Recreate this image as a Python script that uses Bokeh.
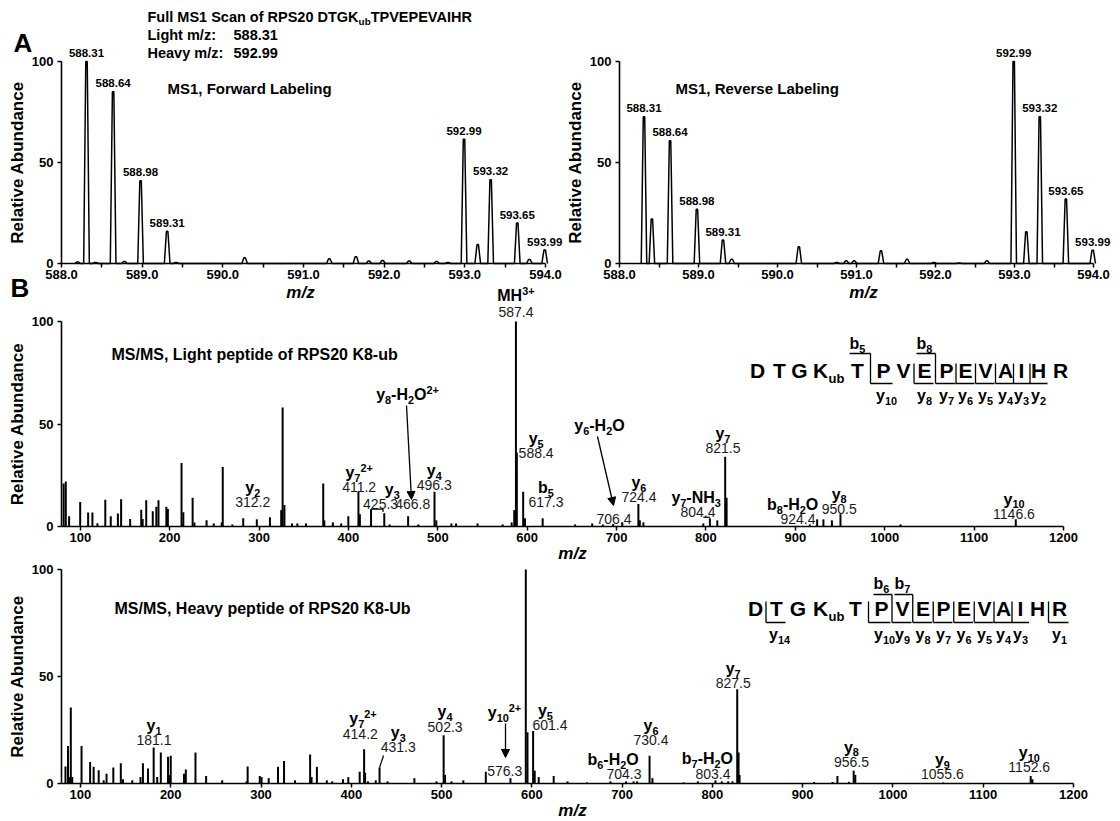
from bokeh.plotting import figure
from bokeh.models import (Range1d, FixedTicker, PrintfTickFormatter, Label, Arrow,
                          NormalHead, ColumnDataSource)
from bokeh.layouts import column, row
from bokeh.embed import file_html
from bokeh.resources import INLINE

FONT = "Liberation Sans"
BASE_SHIFT = 0.38   # Label baseline correction (fraction of font size)

# ---------------- data ----------------
# MS1, forward labeling (profile peaks: m/z, relative abundance)
fwd_mz = [588.20, 588.31, 588.42, 588.64, 588.78, 588.98, 589.31, 589.42, 590.27, 591.32, 591.65,
          591.81, 591.98, 592.31, 592.65, 592.79, 592.99, 593.16, 593.32, 593.65, 593.80, 593.99]
fwd_ab = [0.8, 100, 0.5, 85, 1.0, 41, 16, 0.5, 2.8, 2.3, 3.4,
          1.2, 1.5, 1.2, 1.0, 0.5, 61.5, 9.4, 41.5, 20, 2.0, 6.7]
# MS1, reverse labeling
rev_mz = [588.31, 588.41, 588.64, 588.98, 589.31, 589.42, 590.27, 590.75, 590.87, 590.97,
          591.31, 591.64, 591.98, 592.30, 592.65, 592.99, 593.15, 593.32, 593.65, 593.99]
rev_ab = [72.7, 22.0, 60.8, 26.9, 11.6, 2.1, 8.3, 0.5, 1.3, 1.3,
          6.3, 2.1, 0.5, 0.3, 1.3, 100, 15.7, 72.7, 31.9, 6.6]
ms1_labels = ["588.31", "588.64", "588.98", "589.31", "592.99", "593.32", "593.65", "593.99"]
ms1_ticks = [588.0, 589.0, 590.0, 591.0, 592.0, 593.0, 594.0]
ms1_minor = [588.5, 589.5, 590.5, 591.5, 592.5, 593.5]

# MS/MS light peptide (centroid sticks)
light_mz = [81.4, 83.8, 87.5, 99.9, 108.8, 113.6, 119.2, 128.0, 134.1, 142.1, 145.7, 155.8, 168.2,
            169.8, 173.8, 181.1, 185.1, 187.5, 196.3, 198.0, 213.3, 215.3, 225.7, 227.7, 241.3,
            249.3, 258.2, 259.4, 270.2, 282.3, 297.5, 312.2, 324.8, 326.4, 328.4, 336.9, 342.9,
            352.5, 371.8, 373.0, 382.6, 391.9, 399.9, 411.2, 412.8, 425.3, 440.1, 446.1, 466.8,
            478.2, 496.3, 498.3, 515.2, 520.4, 544.5, 572.6, 582.6, 585.5, 587.4, 588.4, 595.5,
            597.5, 617.3, 653.6, 672.7, 684.6, 696.1, 706.4, 724.4, 726.0, 730.0, 797.0, 804.4,
            812.7, 821.5, 823.1, 916.2, 924.4, 931.4, 940.9, 950.5, 1017.7, 1146.6]
light_ab = [21, 22, 5, 12, 6.8, 6.8, 1.6, 13, 5, 6.4, 13.3, 3.7, 8.2,
            3.7, 12.8, 7.5, 9.6, 12.8, 9.6, 8.5, 31, 7, 14, 2, 3,
            1.5, 2, 29, 1, 4, 3.5, 4.5, 8, 58, 10.5, 1.5, 1.5,
            1.5, 21, 3, 2, 1.5, 5, 17, 6, 8.5, 6.5, 1, 5,
            1, 17, 3, 1.5, 1.5, 1.5, 1, 2, 8, 100, 36, 17,
            4, 4, 1, 1.5, 1, 1.2, 2, 11, 3, 2, 1.5, 4,
            3, 34, 14, 1, 3.5, 3.5, 3, 6, 1, 3.5]

# MS/MS heavy peptide
heavy_mz = [83.4, 86.2, 88.1, 89.3, 90.9, 101.2, 110.7, 114.6, 120.2, 125.7, 128.9, 136.4, 144.7,
            147.1, 157.4, 166.5, 169.2, 174.8, 181.1, 185.0, 189.0, 197.0, 198.5, 200.0, 214.7,
            216.7, 227.4, 239.2, 257.0, 284.0, 285.2, 298.6, 300.6, 308.5, 318.8, 325.5, 337.7,
            354.4, 356.0, 361.9, 372.9, 378.9, 390.8, 396.7, 409.3, 414.2, 415.3, 418.4, 427.1,
            431.3, 440.2, 469.9, 494.4, 502.3, 503.9, 511.0, 524.1, 549.0, 576.3, 593.3, 595.2,
            601.4, 603.2, 607.6, 624.2, 639.5, 661.0, 687.0, 704.3, 712.7, 716.6, 730.4, 733.6,
            768.0, 783.9, 803.4, 810.4, 817.5, 822.2, 827.5, 829.0, 830.1, 912.8, 933.0, 938.5,
            951.2, 956.5, 958.3, 1055.6, 1152.6, 1154.5]
heavy_ab = [8, 17.5, 3, 35.5, 3, 17.5, 10, 7.8, 6.2, 1.5, 4.5, 7.5, 9.5,
            2, 1.5, 3, 9.5, 7, 16.8, 3, 14.5, 12.5, 4, 13, 4.5,
            6.5, 14.5, 3.5, 1.5, 1, 8, 3.5, 3, 2.5, 7.8, 10.5, 1.5,
            13.5, 3, 7.8, 1.5, 1, 2, 3, 5.5, 16, 5, 1, 1.5,
            7.5, 1, 2.5, 1, 22.5, 4, 1, 1.5, 5.5, 2.5, 100, 24,
            24.5, 6, 3, 3.5, 1, 0.5, 1, 1, 1, 1, 13, 2.5,
            0.5, 1, 1.5, 1, 1, 1, 44, 14.5, 4, 0.7, 0.7, 3.5,
            0.8, 6, 4, 0.5, 3.5, 2]
msms_ticks = [100, 200, 300, 400, 500, 600, 700, 800, 900, 1000, 1100, 1200]

assert len(fwd_mz) == len(fwd_ab) and len(rev_mz) == len(rev_ab)
assert len(light_mz) == len(light_ab) and len(heavy_mz) == len(heavy_ab)

# ion annotations: (name, value text, value x (m/z), value centre (abundance), name x or None)
light_ions = [
    ("y_{5}", "588.4", 610, 35.6, None),
    ("b_{5}", "617.3", 621, 11.7, None),
    ("y_{2}", "312.2", 293, 11.7, None),
    ("y_{7}^{2+}", "411.2", 412, 19.0, None),
    ("y_{3}", "425.3", 436, 10.7, 449),
    ("", "466.8", 472, 10.7, None),
    ("y_{4}", "496.3", 496, 20.0, None),
    ("", "706.4", 697, 3.4, None),
    ("y_{6}", "724.4", 725, 14.0, None),
    ("y_{7}-NH_{3}", "804.4", 791, 6.8, 789),
    ("y_{7}", "821.5", 819, 38.0, None),
    ("b_{8}-H_{2}O", "924.4", 903, 3.4, 897),
    ("y_{8}", "950.5", 949, 8.4, None),
    ("y_{10}", "1146.6", 1144.6, 5.9, None),
]
heavy_ions = [
    ("y_{1}", "181.1", 181.5, 20.0, None),
    ("y_{7}^{2+}", "414.2", 410, 23.2, 413),
    ("y_{3}", "431.3", 452, 16.8, None),
    ("y_{4}", "502.3", 503.9, 26.4, None),
    ("", "576.3", 570, 5.7, None),
    ("y_{5}", "601.4", 620, 27.0, 615),
    ("b_{6}-H_{2}O", "704.3", 702, 4.2, 690),
    ("y_{6}", "730.4", 732, 20.0, None),
    ("b_{7}-H_{2}O", "803.4", 800.6, 4.5, 794.5),
    ("y_{7}", "827.5", 823, 46.7, None),
    ("y_{8}", "956.5", 954, 10.0, None),
    ("y_{9}", "1055.6", 1054.8, 4.2, None),
    ("y_{10}", "1152.6", 1151, 7.5, None),
]
residues = ["D", "T", "G", "K", "T", "P", "V", "E", "P", "E", "V", "A", "I", "H", "R"]
light_b_cuts = [4, 7]
light_y_cuts = [4, 6, 7, 8, 9, 10, 11, 12]
heavy_b_cuts = [5, 6]
heavy_y_cuts = [0, 4, 5, 6, 7, 8, 9, 10, 11, 13]

# ---------------- helpers ----------------
W_BOLD = {' ': 278, ',': 278, '-': 333, '.': 278, '/': 278, ':': 333, '+': 584,
          'A': 722, 'B': 722, 'C': 722, 'D': 722, 'E': 667, 'F': 611, 'G': 778, 'H': 722,
          'I': 278, 'K': 722, 'L': 611, 'M': 833, 'N': 722, 'O': 778, 'P': 667, 'R': 722,
          'S': 667, 'T': 611, 'U': 722, 'V': 667, 'a': 556, 'b': 611, 'c': 556, 'd': 611,
          'e': 556, 'f': 333, 'g': 611, 'h': 611, 'i': 278, 'k': 556, 'l': 278, 'm': 889,
          'n': 611, 'o': 611, 'p': 611, 'r': 389, 's': 556, 't': 333, 'u': 611, 'v': 556,
          'w': 778, 'y': 556, 'z': 500}
for d in "0123456789":
    W_BOLD[d] = 556
W_REG = {'.': 278}
for d in "0123456789":
    W_REG[d] = 556


def tw(s, size, bold=True):
    tab = W_BOLD if bold else W_REG
    return sum(tab.get(c, 556) for c in s) * size / 1000.0


class G:
    """page-pixel <-> data mapping of the data box of a panel"""
    def __init__(self, left, top, right, bottom, x0, x1, y0, y1):
        self.l, self.t, self.r, self.b = left, top, right, bottom
        self.x0, self.x1, self.y0, self.y1 = x0, x1, y0, y1

    def x(self, px):
        return self.x0 + (px - self.l) * (self.x1 - self.x0) / (self.r - self.l)

    def y(self, py):
        return self.y0 + (self.b - py) * (self.y1 - self.y0) / (self.b - self.t)

    def px(self, x):
        return self.l + (x - self.x0) * (self.r - self.l) / (self.x1 - self.x0)

    def py(self, y):
        return self.b - (y - self.y0) * (self.b - self.t) / (self.y1 - self.y0)


def parse(markup):
    parts, buf, i = [], "", 0
    while i < len(markup):
        c = markup[i]
        if c in "_^" and i + 1 < len(markup) and markup[i + 1] == "{":
            if buf:
                parts.append((buf, "n"))
                buf = ""
            j = markup.index("}", i)
            parts.append((markup[i + 2:j], "s" if c == "_" else "p"))
            i = j + 1
        else:
            buf += c
            i += 1
    if buf:
        parts.append((buf, "n"))
    return parts


def put(p, g, text, px, base, fs, fstyle, align, color):
    """text whose alphabetic baseline lies at page pixel row `base`"""
    p.add_layout(Label(x=g.x(px), y=g.y(base - BASE_SHIFT * fs), text=text, text_font=FONT,
                       text_font_size=f"{fs:.1f}px", text_font_style=fstyle,
                       text_align=align, text_baseline="alphabetic", text_color=color))


def rich(p, g, markup, px, base, size, bold=True, align="center", style=None, color="black"):
    items = []
    for text, role in parse(markup):
        fs = size if role == "n" else size * 0.68
        items.append((text, role, fs, tw(text, fs, bold)))
    total = sum(it[3] for it in items)
    x = px - total / 2 if align == "center" else (px if align == "left" else px - total)
    fstyle = style or ("bold" if bold else "normal")
    for text, role, fs, w in items:
        if role == "n":
            b = base
        elif role == "s":
            b = base + 0.2 * size
        else:
            b = base - 0.42 * size
        put(p, g, text, x, b, fs, fstyle, "left", color)
        x += w


def plain(p, g, text, px, base, size, bold=True, align="left", style=None, color="black"):
    put(p, g, text, px, base, size, style or ("bold" if bold else "normal"), align, color)


def make_fig(g, canvas):
    cx0, cy0, cx1, cy1 = canvas
    p = figure(width=cx1 - cx0, height=cy1 - cy0,
               x_range=Range1d(g.x(cx0), g.x(cx1)), y_range=Range1d(g.y(cy1), g.y(cy0)),
               output_backend="svg", toolbar_location=None,
               min_border_left=0, min_border_right=0, min_border_top=0, min_border_bottom=0)
    p.title = None
    p.outline_line_color = None
    p.grid.visible = False
    p.background_fill_color = "white"
    p.border_fill_color = "white"
    return p


def style_axes(p, g, ticks, minor, fmt):
    p.xaxis.ticker = FixedTicker(ticks=ticks, minor_ticks=minor)
    p.yaxis.ticker = FixedTicker(ticks=[0, 50, 100])
    p.xaxis.formatter = PrintfTickFormatter(format=fmt)
    p.xaxis.fixed_location = g.y0
    p.yaxis.fixed_location = g.x0
    p.xaxis.bounds = (g.x0, g.x1)
    p.yaxis.bounds = (g.y0, g.y1)
    for ax in (p.xaxis[0], p.yaxis[0]):
        ax.axis_line_width = 1.6
        ax.axis_line_color = "black"
        ax.major_tick_line_width = 1.5
        ax.minor_tick_line_width = 1.5
        ax.major_tick_in = 0
        ax.major_tick_out = 4
        ax.minor_tick_in = 0
        ax.major_label_text_font = FONT
        ax.major_label_text_font_size = "13px"
        ax.major_label_text_font_style = "bold"
        ax.major_label_text_color = "black"
    p.xaxis.minor_tick_out = 4
    p.yaxis.minor_tick_line_color = None
    p.xaxis.major_label_standoff = 2
    p.yaxis.major_label_standoff = 4
    p.yaxis.axis_label = "Relative Abundance"
    p.yaxis.axis_label_text_font = FONT
    p.yaxis.axis_label_text_font_size = "17px"
    p.yaxis.axis_label_text_font_style = "bold"
    p.yaxis.axis_label_text_color = "black"
    p.yaxis.axis_label_standoff = 2


def ms1_panel(p, g, mzs, abs_, labels):
    xs, ys = [], []
    wb, wt = 0.035, 0.009
    for m, a in sorted(zip(mzs, abs_)):
        xs += [m - wb, m - wt, m + wt, m + wb]
        ys += [0, a, a, 0]
    p.line(xs, ys, line_width=1.5, line_color="black")
    for lab in labels:
        v = float(lab)
        i = min(range(len(mzs)), key=lambda k: abs(mzs[k] - v))
        cy = g.py(abs_[i]) - 8
        plain(p, g, lab, g.px(mzs[i]), cy + 4, 11.5, align="center")


def msms_panel(p, g, mzs, abs_, ions):
    src = ColumnDataSource(dict(mz=mzs, ab=abs_, y0=[0] * len(mzs)))
    p.segment(x0="mz", y0="y0", x1="mz", y1="ab", source=src, line_width=2, line_color="black")
    for name, val, vx, vh, nx in ions:
        cy = g.py(vh)
        plain(p, g, val, g.px(vx), cy + 5, 14, bold=False, align="center", color="#1a1a1a")
        if name:
            rich(p, g, name, g.px(nx if nx is not None else vx), cy - 9, 16)


def sequence(p, g, centers, base, top_y, bot_y, b_base, y_base, b_cuts, y_cuts):
    n = len(residues)
    for k, (res, cx) in enumerate(zip(residues, centers)):
        plain(p, g, res, cx, base, 21, align="center")
        if res == "K":
            plain(p, g, "ub", cx + tw("K", 21) / 2 + 0.5, base + 5, 13, align="left")
    cuts = sorted(set(b_cuts) | set(y_cuts))
    divx = {i: (centers[i] + centers[i + 1]) / 2 for i in range(n - 1)}
    xs, ys = [], []
    for i in cuts:
        dx = divx[i]
        top = top_y if i in b_cuts else base - 15
        xs.append([g.x(dx), g.x(dx)])
        ys.append([g.y(top), g.y(bot_y)])
        if i in b_cuts:
            start = max(divx.get(i - 1, -1e9), centers[i] - 8)
            xs.append([g.x(start), g.x(dx)])
            ys.append([g.y(top_y), g.y(top_y)])
            rich(p, g, "b_{%d}" % (i + 1), centers[i], b_base, 16)
        if i in y_cuts:
            end = min(divx.get(i + 1, 1e9), centers[i + 1] + 9)
            xs.append([g.x(dx), g.x(end)])
            ys.append([g.y(bot_y), g.y(bot_y)])
            num = n - (i + 1)
            rich(p, g, "y_{%d}" % num, centers[i + 1] + (3 if num >= 10 else 0), y_base, 16)
    p.multi_line(xs, ys, line_width=1.3, line_color="black")


def arrow(p, g, x0, y0, x1, y1):
    p.add_layout(Arrow(end=NormalHead(size=8, fill_color="black", line_color="black", line_width=1),
                       x_start=g.x(x0), y_start=g.y(y0), x_end=g.x(x1), y_end=g.y(y1),
                       line_width=1.3, line_color="black"))


# ---------------- figures (page pixel geometry) ----------------
g1 = G(61, 61, 545, 263, 588, 594, 0, 100)
g2 = G(619, 61, 1093, 263, 588, 594, 0, 100)
g3 = G(61, 321, 1063, 526, 79, 1200, 0, 100)
g4 = G(61, 569, 1073, 783, 79, 1200, 0, 100)

p1 = make_fig(g1, (0, 0, 563, 303))
p2 = make_fig(g2, (563, 0, 1118, 303))
p3 = make_fig(g3, (0, 303, 1118, 563))
p4 = make_fig(g4, (0, 563, 1118, 819))

style_axes(p1, g1, ms1_ticks, ms1_minor, "%.1f")
style_axes(p2, g2, ms1_ticks, ms1_minor, "%.1f")
style_axes(p3, g3, msms_ticks, [], "%d")
style_axes(p4, g4, msms_ticks, [], "%d")

# --- panel A ---
ms1_panel(p1, g1, fwd_mz, fwd_ab, ms1_labels)
ms1_panel(p2, g2, rev_mz, rev_ab, ms1_labels)
plain(p1, g1, "A", 13, 52, 26)
rich(p1, g1, "Full MS1 Scan of RPS20 DTGK_{ub}TPVEPEVAIHR", 147, 22, 14.5, align="left")
plain(p1, g1, "Light m/z:", 147, 40, 14.5)
plain(p1, g1, "588.31", 233, 40, 14.5)
plain(p1, g1, "Heavy m/z:", 147, 58, 14.5)
plain(p1, g1, "592.99", 233, 58, 14.5)
plain(p1, g1, "MS1, Forward Labeling", 167, 94, 15)
plain(p2, g2, "MS1, Reverse Labeling", 675, 94, 15)
plain(p1, g1, "m/z", 300, 298, 17, style="bold italic", align="center")
plain(p2, g2, "m/z", 863, 298, 17, style="bold italic", align="center")
plain(p1, g1, "B", 10, 297, 26)
rich(p1, g1, "MH^{3+}", g3.px(587.4), 301, 16)

# --- panel B, light ---
msms_panel(p3, g3, light_mz, light_ab, light_ions)
plain(p3, g3, "587.4", g3.px(587.4), g3.py(104.4) + 5, 14, bold=False, align="center", color="#1a1a1a")
plain(p3, g3, "MS/MS, Light peptide of RPS20 K8-ub", 111, 360, 16)
rich(p3, g3, "y_{8}-H_{2}O^{2+}", 407, 400, 16)
arrow(p3, g3, 406, 405, 411, 499)
rich(p3, g3, "y_{6}-H_{2}O", 599, 431, 16)
arrow(p3, g3, 597, 436, 613, 505)
lx = g3.px(425.3)
ly = g3.py(8.5)
p3.multi_line([[425.3, g3.x(lx + 12), g3.x(lx + 12)], [797.0, 804.4]],
              [[8.5, 8.5, g3.y(ly + 3)], [4.5, 4.5]], line_width=1.2, line_color="black")
sequence(p3, g3, [757, 779, 799, 820, 857, 883, 903, 924, 946, 965, 985, 1005, 1021, 1038, 1060],
         378, 353, 383, 349, 401, light_b_cuts, light_y_cuts)
plain(p3, g3, "m/z", 572, 559, 17, style="bold italic", align="center")

# --- panel B, heavy ---
msms_panel(p4, g4, heavy_mz, heavy_ab, heavy_ions)
plain(p4, g4, "MS/MS, Heavy peptide of RPS20 K8-Ub", 114, 614, 16)
rich(p4, g4, "y_{10}^{2+}", 504, 718, 16)
arrow(p4, g4, 505, 723, 505, 757)
hx = g4.px(431.3)
hy = g4.py(7.5)
p4.multi_line([[431.3, g4.x(hx + 4)]], [[7.5, g4.y(hy - 12)]], line_width=1.2, line_color="black")
sequence(p4, g4, [755, 776, 797.5, 820, 855, 881, 902, 922.5, 943, 963.5, 984, 1003, 1020, 1037, 1059],
         616, 594, 622, 589, 640, heavy_b_cuts, heavy_y_cuts)
plain(p4, g4, "m/z", 572, 816, 17, style="bold italic", align="center")

layout = column(row(p1, p2), p3, p4)
open("out.html", "w").write(file_html(layout, INLINE, title="RPS20 K8 ubiquitination spectra"))
